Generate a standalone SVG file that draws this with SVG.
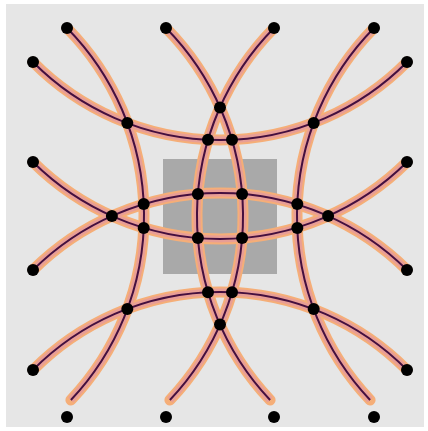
<svg xmlns="http://www.w3.org/2000/svg" xmlns:xlink="http://www.w3.org/1999/xlink" width="428" height="431" viewBox="0 0 428 431">
  <style>
    .bg { fill: #e6e6e6; }
    .sq { fill: #a9a9a9; }
    .band { fill: none; stroke: #f5ae78; stroke-width: 11; stroke-linecap: round; }
    .core { fill: none; stroke: #e89e96; stroke-width: 7; }
    .line { fill: none; stroke: #45103f; stroke-width: 2; }
    .dot { fill: #000000; }
  </style>
  <defs>
    <path id="c1" d="M67,28 A268,268 0 0 1 70.9,400"/>
    <path id="c3" d="M166,28 A268,268 0 0 1 169.9,400"/>
    <path id="c4" d="M274,28 A268,268 0 0 0 270.1,400"/>
    <path id="c5" d="M374,28 A268,268 0 0 0 370.1,400"/>
    <path id="c2" d="M33,62 A263.2,263.2 0 0 0 407,62"/>
    <path id="c6" d="M33,162 A265.6,265.6 0 0 0 407,162"/>
    <path id="c7" d="M33,270 A265.6,265.6 0 0 1 407,270"/>
    <path id="c8" d="M33,370 A263.2,263.2 0 0 1 407,370"/>
  </defs>
  <rect class="bg" x="6" y="4" width="418" height="423"/>
  <rect class="sq" x="163" y="159" width="114" height="115"/>
  <g id="connectors">
    <g id="bands">
      <use xlink:href="#c1" class="band"/><use xlink:href="#c3" class="band"/>
      <use xlink:href="#c4" class="band"/><use xlink:href="#c5" class="band"/>
      <use xlink:href="#c2" class="band"/><use xlink:href="#c6" class="band"/>
      <use xlink:href="#c7" class="band"/><use xlink:href="#c8" class="band"/>
    </g>
    <g id="cores">
      <use xlink:href="#c1" class="core"/><use xlink:href="#c3" class="core"/>
      <use xlink:href="#c4" class="core"/><use xlink:href="#c5" class="core"/>
      <use xlink:href="#c2" class="core"/><use xlink:href="#c6" class="core"/>
      <use xlink:href="#c7" class="core"/><use xlink:href="#c8" class="core"/>
    </g>
    <g id="lines">
      <use xlink:href="#c1" class="line"/><use xlink:href="#c3" class="line"/>
      <use xlink:href="#c4" class="line"/><use xlink:href="#c5" class="line"/>
      <use xlink:href="#c2" class="line"/><use xlink:href="#c6" class="line"/>
      <use xlink:href="#c7" class="line"/><use xlink:href="#c8" class="line"/>
    </g>
  </g>
  <g id="nodes">
    <g id="n-top-1"><circle class="dot" cx="67" cy="28" r="6"/></g>
    <g id="n-top-2"><circle class="dot" cx="166" cy="28" r="6"/></g>
    <g id="n-top-3"><circle class="dot" cx="274" cy="28" r="6"/></g>
    <g id="n-top-4"><circle class="dot" cx="374" cy="28" r="6"/></g>
    <g id="n-left-1"><circle class="dot" cx="33" cy="62" r="6"/></g>
    <g id="n-left-2"><circle class="dot" cx="33" cy="162" r="6"/></g>
    <g id="n-left-3"><circle class="dot" cx="33" cy="270" r="6"/></g>
    <g id="n-left-4"><circle class="dot" cx="33" cy="370" r="6"/></g>
    <g id="n-right-1"><circle class="dot" cx="407" cy="62" r="6"/></g>
    <g id="n-right-2"><circle class="dot" cx="407" cy="162" r="6"/></g>
    <g id="n-right-3"><circle class="dot" cx="407" cy="270" r="6"/></g>
    <g id="n-right-4"><circle class="dot" cx="407" cy="370" r="6"/></g>
    <g id="n-bottom-1"><circle class="dot" cx="67" cy="417" r="6"/></g>
    <g id="n-bottom-2"><circle class="dot" cx="166" cy="417" r="6"/></g>
    <g id="n-bottom-3"><circle class="dot" cx="274" cy="417" r="6"/></g>
    <g id="n-bottom-4"><circle class="dot" cx="374" cy="417" r="6"/></g>
    <g id="x-1"><circle class="dot" cx="127.3" cy="123.1" r="6"/></g>
    <g id="x-2"><circle class="dot" cx="313.7" cy="123.1" r="6"/></g>
    <g id="x-3"><circle class="dot" cx="220" cy="107.4" r="6"/></g>
    <g id="x-4"><circle class="dot" cx="208" cy="139.7" r="6"/></g>
    <g id="x-5"><circle class="dot" cx="232" cy="139.7" r="6"/></g>
    <g id="x-6"><circle class="dot" cx="111.9" cy="216" r="6"/></g>
    <g id="x-7"><circle class="dot" cx="328.1" cy="216" r="6"/></g>
    <g id="x-8"><circle class="dot" cx="143.7" cy="204.1" r="6"/></g>
    <g id="x-9"><circle class="dot" cx="143.7" cy="227.9" r="6"/></g>
    <g id="x-10"><circle class="dot" cx="297.3" cy="204.1" r="6"/></g>
    <g id="x-11"><circle class="dot" cx="297.3" cy="227.9" r="6"/></g>
    <g id="x-12"><circle class="dot" cx="197.9" cy="194" r="6"/></g>
    <g id="x-13"><circle class="dot" cx="242.1" cy="194" r="6"/></g>
    <g id="x-14"><circle class="dot" cx="197.9" cy="238" r="6"/></g>
    <g id="x-15"><circle class="dot" cx="242.1" cy="238" r="6"/></g>
    <g id="x-16"><circle class="dot" cx="208" cy="292.3" r="6"/></g>
    <g id="x-17"><circle class="dot" cx="232" cy="292.3" r="6"/></g>
    <g id="x-18"><circle class="dot" cx="220" cy="324.6" r="6"/></g>
    <g id="x-19"><circle class="dot" cx="127.3" cy="308.9" r="6"/></g>
    <g id="x-20"><circle class="dot" cx="313.7" cy="308.9" r="6"/></g>
  </g>
</svg>
